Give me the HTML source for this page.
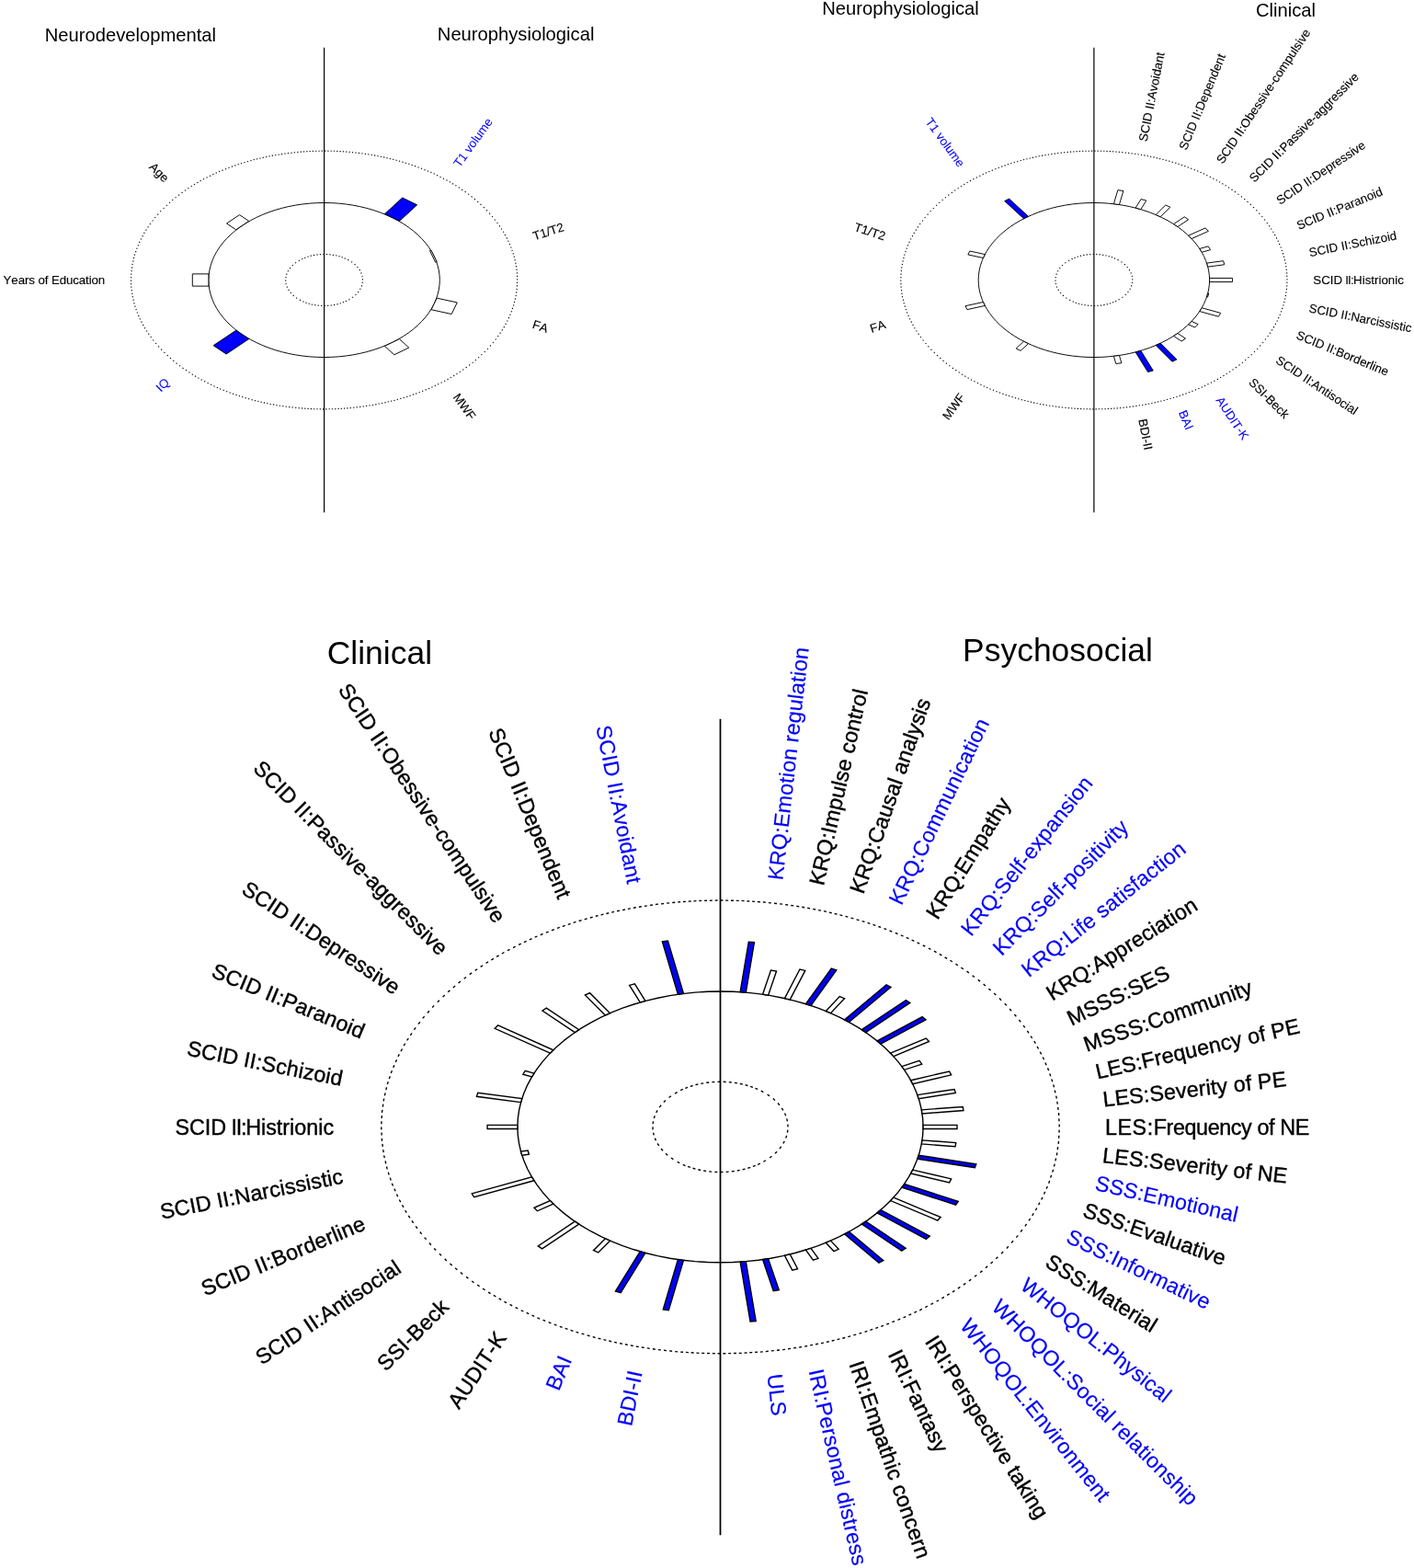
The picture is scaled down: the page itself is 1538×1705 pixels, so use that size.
<!DOCTYPE html>
<html lang="en"><head><meta charset="utf-8"><title>Helio plots</title>
<style>
html,body{margin:0;padding:0;background:#fff;}
body{width:1538px;height:1705px;overflow:hidden;font-family:"Liberation Sans", sans-serif;}
svg{display:block;}
text{white-space:pre;font-kerning:none;}
</style></head>
<body>
<svg width="1538" height="1705" viewBox="0 0 1538 1705" font-family='"Liberation Sans", sans-serif'>
<rect width="1538" height="1705" fill="#fff"/>
<g id="A">
<path d="M394.5 304.5l-0.06 -1.27M394.17 300.99l-0.29 -1.23M393.18 297.54l-0.51 -1.16M391.56 294.19l-0.69 -1.06M389.32 291.01l-0.84 -0.95M386.5 288.04l-0.96 -0.83M383.14 285.33l-1.05 -0.7M379.31 282.93l-1.13 -0.58M375.78 281.19l-1.15 -0.52M372.79 279.96l-1.2 -0.41M369.63 278.93l-1.22 -0.35M366.37 278.07l-1.23 -0.3M363.02 277.38l-1.25 -0.19M359.58 276.9l-1.26 -0.13M356.1 276.61l-1.26 -0.08M352.6 276.5l-1.27 0.03M349.1 276.61l-1.26 0.08M345.62 276.9l-1.26 0.13M342.18 277.38l-1.24 0.24M338.83 278.07l-1.23 0.3M335.57 278.93l-1.22 0.35M332.41 279.96l-1.18 0.47M329.42 281.19l-1.15 0.52M325.89 282.93l-1.09 0.64M322.06 285.33l-1.01 0.77M318.7 288.04l-0.9 0.89M315.88 291.01l-0.77 1.01M313.64 294.19l-0.6 1.12M312.02 297.54l-0.4 1.2M311.03 300.99l-0.18 1.26M310.7 304.5l0.06 1.27M311.03 308.01l0.29 1.23M312.02 311.46l0.51 1.16M313.64 314.81l0.69 1.06M315.88 317.99l0.84 0.95M318.7 320.96l0.96 0.83M322.06 323.67l1.05 0.7M325.89 326.07l1.13 0.58M329.42 327.81l1.15 0.52M332.41 329.04l1.2 0.41M335.57 330.07l1.22 0.35M338.83 330.93l1.23 0.3M342.18 331.62l1.25 0.19M345.62 332.1l1.26 0.13M349.1 332.39l1.26 0.08M352.6 332.5l1.27 -0.03M356.1 332.39l1.26 -0.08M359.58 332.1l1.26 -0.13M363.02 331.62l1.24 -0.24M366.37 330.93l1.23 -0.3M369.63 330.07l1.22 -0.35M372.79 329.04l1.18 -0.47M375.78 327.81l1.15 -0.52M379.31 326.07l1.09 -0.64M383.14 323.67l1.01 -0.77M386.5 320.96l0.9 -0.89M389.32 317.99l0.77 -1.01M391.56 314.81l0.6 -1.12M393.18 311.46l0.4 -1.2M394.17 308.01l0.18 -1.26" fill="none" stroke="#000" stroke-width="1.1" />
<polygon points="478.3,304.5 478.05,299.23 477.31,293.97 476.07,288.76 474.35,283.61 472.15,278.54 469.47,273.58 466.34,268.73 462.75,264.03 458.73,259.49 454.29,255.13 449.45,250.96 444.23,247 438.65,243.27 432.72,239.78 426.48,236.54 419.95,233.58 413.16,230.89 406.12,228.49 398.87,226.4 391.44,224.61 383.86,223.14 376.15,221.99 368.35,221.16 360.49,220.67 352.6,220.5 344.71,220.67 336.85,221.16 329.05,221.99 321.34,223.14 313.76,224.61 306.33,226.4 299.08,228.49 292.04,230.89 285.25,233.58 278.72,236.54 272.48,239.78 266.55,243.27 260.97,247 255.75,250.96 250.91,255.13 246.47,259.49 242.45,264.03 238.86,268.73 235.73,273.58 233.05,278.54 230.85,283.61 229.13,288.76 227.89,293.97 227.15,299.23 226.9,304.5 227.15,309.77 227.89,315.03 229.13,320.24 230.85,325.39 233.05,330.46 235.73,335.42 238.86,340.27 242.45,344.97 246.47,349.51 250.91,353.87 255.75,358.04 260.97,362 266.55,365.73 272.48,369.22 278.72,372.46 285.25,375.42 292.04,378.11 299.08,380.51 306.33,382.6 313.76,384.39 321.34,385.86 329.05,387.01 336.85,387.84 344.71,388.33 352.6,388.5 360.49,388.33 368.35,387.84 376.15,387.01 383.86,385.86 391.44,384.39 398.87,382.6 406.12,380.51 413.16,378.11 419.95,375.42 426.48,372.46 432.72,369.22 438.65,365.73 444.23,362 449.45,358.04 454.29,353.87 458.73,349.51 462.75,344.97 466.34,340.27 469.47,335.42 472.15,330.46 474.35,325.39 476.07,320.24 477.31,315.03 478.05,309.77" fill="none" stroke="#000" stroke-width="0.95" stroke-linejoin="round"/>
<path d="M562.73 304.5l-0.06 -1.27M562.56 300.97l-0.06 -1.27M562.4 297.45l-0.06 -1.27M562.07 293.93l-0.18 -1.26M561.57 290.41l-0.18 -1.26M561.07 286.9l-0.29 -1.23M560.25 283.42l-0.29 -1.23M559.42 279.93l-0.29 -1.23M558.43 276.47l-0.4 -1.2M557.28 273.02l-0.4 -1.2M556.13 269.58l-0.51 -1.16M554.65 266.19l-0.51 -1.16M553.18 262.8l-0.51 -1.16M551.55 259.45l-0.6 -1.12M549.76 256.13l-0.6 -1.12M547.97 252.81l-0.69 -1.06M545.88 249.57l-0.69 -1.06M543.78 246.33l-0.69 -1.06M541.4 242.97l-0.77 -1.01M538.73 239.47l-0.77 -1.01M535.99 236.01l-0.84 -0.95M533 232.63l-0.84 -0.95M530.02 229.26l-0.9 -0.89M526.72 226.02l-0.9 -0.89M523.42 222.77l-0.9 -0.89M520.17 219.87l-0.96 -0.83M516.93 217.08l-0.96 -0.83M513.63 214.33l-1.01 -0.77M510.14 211.68l-1.01 -0.77M506.65 209.04l-1.01 -0.77M503.23 206.67l-1.05 -0.7M499.84 204.41l-1.05 -0.7M496.44 202.14l-1.09 -0.64M493.14 200.19l-1.09 -0.64M489.84 198.25l-1.09 -0.64M486.54 196.3l-1.13 -0.58M483.06 194.5l-1.13 -0.58M479.59 192.7l-1.13 -0.58M476.11 190.9l-1.15 -0.52M472.75 189.37l-1.15 -0.52M469.39 187.85l-1.15 -0.52M466.03 186.32l-1.15 -0.52M462.57 184.9l-1.18 -0.47M459.07 183.52l-1.18 -0.47M455.58 182.14l-1.18 -0.47M452.15 180.88l-1.2 -0.41M448.79 179.73l-1.2 -0.41M445.43 178.59l-1.2 -0.41M442.07 177.44l-1.22 -0.35M438.61 176.44l-1.22 -0.35M435.15 175.44l-1.22 -0.35M431.68 174.44l-1.22 -0.35M428.3 173.54l-1.23 -0.3M424.99 172.75l-1.23 -0.3M421.67 171.95l-1.23 -0.3M418.36 171.15l-1.23 -0.3M415 170.46l-1.24 -0.24M411.62 169.8l-1.24 -0.24M408.24 169.15l-1.24 -0.24M404.86 168.49l-1.25 -0.19M401.42 167.98l-1.25 -0.19M397.99 167.47l-1.25 -0.19M394.55 166.95l-1.25 -0.19M391.1 166.48l-1.26 -0.13M387.63 166.11l-1.26 -0.13M384.15 165.74l-1.26 -0.13M380.67 165.37l-1.26 -0.13M377.29 165.08l-1.26 -0.08M374.01 164.88l-1.26 -0.08M370.72 164.67l-1.26 -0.08M367.44 164.46l-1.26 -0.08M364.14 164.32l-1.27 -0.03M360.85 164.25l-1.27 -0.03M357.55 164.18l-1.27 -0.03M354.25 164.11l-1.27 -0.03M350.95 164.11l-1.27 0.03M347.65 164.18l-1.27 0.03M344.35 164.25l-1.27 0.03M341.06 164.32l-1.27 0.03M337.76 164.46l-1.26 0.08M334.48 164.67l-1.26 0.08M331.19 164.88l-1.26 0.08M327.91 165.08l-1.26 0.08M324.53 165.37l-1.26 0.13M321.05 165.74l-1.26 0.13M317.57 166.11l-1.26 0.13M314.1 166.48l-1.26 0.13M310.65 166.95l-1.25 0.19M307.21 167.47l-1.25 0.19M303.78 167.98l-1.25 0.19M300.34 168.49l-1.24 0.24M296.96 169.15l-1.24 0.24M293.58 169.8l-1.24 0.24M290.2 170.46l-1.24 0.24M286.84 171.15l-1.23 0.3M283.53 171.95l-1.23 0.3M280.21 172.75l-1.23 0.3M276.9 173.54l-1.23 0.3M273.52 174.44l-1.22 0.35M270.05 175.44l-1.22 0.35M266.59 176.44l-1.22 0.35M263.13 177.44l-1.2 0.41M259.77 178.59l-1.2 0.41M256.41 179.73l-1.2 0.41M253.05 180.88l-1.2 0.41M249.62 182.14l-1.18 0.47M246.13 183.52l-1.18 0.47M242.63 184.9l-1.18 0.47M239.17 186.32l-1.15 0.52M235.81 187.85l-1.15 0.52M232.45 189.37l-1.15 0.52M229.09 190.9l-1.13 0.58M225.61 192.7l-1.13 0.58M222.14 194.5l-1.13 0.58M218.66 196.3l-1.09 0.64M215.36 198.25l-1.09 0.64M212.06 200.19l-1.09 0.64M208.76 202.14l-1.05 0.7M205.36 204.41l-1.05 0.7M201.97 206.67l-1.05 0.7M198.55 209.04l-1.01 0.77M195.06 211.68l-1.01 0.77M191.57 214.33l-1.01 0.77M188.27 217.08l-0.96 0.83M185.03 219.87l-0.96 0.83M181.78 222.77l-0.9 0.89M178.48 226.02l-0.9 0.89M175.18 229.26l-0.84 0.95M172.2 232.63l-0.84 0.95M169.21 236.01l-0.84 0.95M166.47 239.47l-0.77 1.01M163.8 242.97l-0.77 1.01M161.42 246.33l-0.69 1.06M159.32 249.57l-0.69 1.06M157.23 252.81l-0.6 1.12M155.44 256.13l-0.6 1.12M153.65 259.45l-0.6 1.12M152.02 262.8l-0.51 1.16M150.55 266.19l-0.51 1.16M149.07 269.58l-0.4 1.2M147.92 273.02l-0.4 1.2M146.77 276.47l-0.4 1.2M145.78 279.93l-0.29 1.23M144.95 283.42l-0.29 1.23M144.13 286.9l-0.18 1.26M143.63 290.41l-0.18 1.26M143.13 293.93l-0.18 1.26M142.8 297.45l-0.06 1.27M142.64 300.97l-0.06 1.27M142.47 304.5l0.06 1.27M142.64 308.03l0.06 1.27M142.8 311.55l0.06 1.27M143.13 315.07l0.18 1.26M143.63 318.59l0.18 1.26M144.13 322.1l0.29 1.23M144.95 325.58l0.29 1.23M145.78 329.07l0.29 1.23M146.77 332.53l0.4 1.2M147.92 335.98l0.4 1.2M149.07 339.42l0.51 1.16M150.55 342.81l0.51 1.16M152.02 346.2l0.51 1.16M153.65 349.55l0.6 1.12M155.44 352.87l0.6 1.12M157.23 356.19l0.69 1.06M159.32 359.43l0.69 1.06M161.42 362.67l0.69 1.06M163.8 366.03l0.77 1.01M166.47 369.53l0.77 1.01M169.21 372.99l0.84 0.95M172.2 376.37l0.84 0.95M175.18 379.74l0.9 0.89M178.48 382.98l0.9 0.89M181.78 386.23l0.9 0.89M185.03 389.13l0.96 0.83M188.27 391.92l0.96 0.83M191.57 394.67l1.01 0.77M195.06 397.32l1.01 0.77M198.55 399.96l1.01 0.77M201.97 402.33l1.05 0.7M205.36 404.59l1.05 0.7M208.76 406.86l1.09 0.64M212.06 408.81l1.09 0.64M215.36 410.75l1.09 0.64M218.66 412.7l1.13 0.58M222.14 414.5l1.13 0.58M225.61 416.3l1.13 0.58M229.09 418.1l1.15 0.52M232.45 419.63l1.15 0.52M235.81 421.15l1.15 0.52M239.17 422.68l1.15 0.52M242.63 424.1l1.18 0.47M246.13 425.48l1.18 0.47M249.62 426.86l1.18 0.47M253.05 428.12l1.2 0.41M256.41 429.27l1.2 0.41M259.77 430.41l1.2 0.41M263.13 431.56l1.22 0.35M266.59 432.56l1.22 0.35M270.05 433.56l1.22 0.35M273.52 434.56l1.22 0.35M276.9 435.46l1.23 0.3M280.21 436.25l1.23 0.3M283.53 437.05l1.23 0.3M286.84 437.85l1.23 0.3M290.2 438.54l1.24 0.24M293.58 439.2l1.24 0.24M296.96 439.85l1.24 0.24M300.34 440.51l1.25 0.19M303.78 441.02l1.25 0.19M307.21 441.53l1.25 0.19M310.65 442.05l1.25 0.19M314.1 442.52l1.26 0.13M317.57 442.89l1.26 0.13M321.05 443.26l1.26 0.13M324.53 443.63l1.26 0.13M327.91 443.92l1.26 0.08M331.19 444.12l1.26 0.08M334.48 444.33l1.26 0.08M337.76 444.54l1.26 0.08M341.06 444.68l1.27 0.03M344.35 444.75l1.27 0.03M347.65 444.82l1.27 0.03M350.95 444.89l1.27 0.03M354.25 444.89l1.27 -0.03M357.55 444.82l1.27 -0.03M360.85 444.75l1.27 -0.03M364.14 444.68l1.27 -0.03M367.44 444.54l1.26 -0.08M370.72 444.33l1.26 -0.08M374.01 444.12l1.26 -0.08M377.29 443.92l1.26 -0.08M380.67 443.63l1.26 -0.13M384.15 443.26l1.26 -0.13M387.63 442.89l1.26 -0.13M391.1 442.52l1.26 -0.13M394.55 442.05l1.25 -0.19M397.99 441.53l1.25 -0.19M401.42 441.02l1.25 -0.19M404.86 440.51l1.24 -0.24M408.24 439.85l1.24 -0.24M411.62 439.2l1.24 -0.24M415 438.54l1.24 -0.24M418.36 437.85l1.23 -0.3M421.67 437.05l1.23 -0.3M424.99 436.25l1.23 -0.3M428.3 435.46l1.23 -0.3M431.68 434.56l1.22 -0.35M435.15 433.56l1.22 -0.35M438.61 432.56l1.22 -0.35M442.07 431.56l1.2 -0.41M445.43 430.41l1.2 -0.41M448.79 429.27l1.2 -0.41M452.15 428.12l1.2 -0.41M455.58 426.86l1.18 -0.47M459.07 425.48l1.18 -0.47M462.57 424.1l1.18 -0.47M466.03 422.68l1.15 -0.52M469.39 421.15l1.15 -0.52M472.75 419.63l1.15 -0.52M476.11 418.1l1.13 -0.58M479.59 416.3l1.13 -0.58M483.06 414.5l1.13 -0.58M486.54 412.7l1.09 -0.64M489.84 410.75l1.09 -0.64M493.14 408.81l1.09 -0.64M496.44 406.86l1.05 -0.7M499.84 404.59l1.05 -0.7M503.23 402.33l1.05 -0.7M506.65 399.96l1.01 -0.77M510.14 397.32l1.01 -0.77M513.63 394.67l1.01 -0.77M516.93 391.92l0.96 -0.83M520.17 389.13l0.96 -0.83M523.42 386.23l0.9 -0.89M526.72 382.98l0.9 -0.89M530.02 379.74l0.84 -0.95M533 376.37l0.84 -0.95M535.99 372.99l0.84 -0.95M538.73 369.53l0.77 -1.01M541.4 366.03l0.77 -1.01M543.78 362.67l0.69 -1.06M545.88 359.43l0.69 -1.06M547.97 356.19l0.6 -1.12M549.76 352.87l0.6 -1.12M551.55 349.55l0.6 -1.12M553.18 346.2l0.51 -1.16M554.65 342.81l0.51 -1.16M556.13 339.42l0.4 -1.2M557.28 335.98l0.4 -1.2M558.43 332.53l0.4 -1.2M559.42 329.07l0.29 -1.23M560.25 325.58l0.29 -1.23M561.07 322.1l0.18 -1.26M561.57 318.59l0.18 -1.26M562.07 315.07l0.18 -1.26M562.4 311.55l0.06 -1.27M562.56 308.03l0.06 -1.27" fill="none" stroke="#000" stroke-width="1.1" />
<line x1="352.6" y1="51.66" x2="352.6" y2="557.34" stroke="#000" stroke-width="1.2"/>
<polygon points="256.72,249.78 246.53,242.96 260.52,233.62 270.71,240.43" fill="#fff" stroke="#000" stroke-width="0.95" stroke-linejoin="miter"/>
<polygon points="226.9,311.11 209.3,311.11 209.3,297.89 226.9,297.89" fill="#fff" stroke="#000" stroke-width="0.95" stroke-linejoin="miter"/>
<polygon points="270.71,368.57 246.12,385 232.13,375.66 256.72,359.22" fill="#0000ff" stroke="#000" stroke-width="0.95" stroke-linejoin="miter"/>
<polygon points="418.48,232.66 437.65,215.03 453.65,222.8 434.48,240.43" fill="#0000ff" stroke="#000" stroke-width="0.95" stroke-linejoin="miter"/>
<polygon points="469.09,272.26 467.5,272.6 473.61,285.17 475.2,284.83" fill="#fff" stroke="#000" stroke-width="0.95" stroke-linejoin="miter"/>
<polygon points="475.2,324.17 497.28,328.97 491.17,341.54 469.09,336.74" fill="#fff" stroke="#000" stroke-width="0.95" stroke-linejoin="miter"/>
<polygon points="434.48,368.57 444.78,378.04 428.78,385.81 418.48,376.34" fill="#fff" stroke="#000" stroke-width="0.95" stroke-linejoin="miter"/>
<text transform="translate(181.65 195.61) rotate(45)" x="0" y="4.76" font-size="13.3" text-anchor="end" fill="#000" stroke="#000" stroke-width="0.12">Age</text>
<text transform="translate(114.15 304.5) rotate(-0)" x="0" y="4.76" font-size="13.3" text-anchor="end" fill="#000" stroke="#000" stroke-width="0.12" letter-spacing="-0.1">Years of Education</text>
<text transform="translate(181.65 413.39) rotate(-45)" x="0" y="4.76" font-size="13.3" text-anchor="end" fill="#0000ff" stroke="#0000ff" stroke-width="0.05">IQ</text>
<text transform="translate(496.06 179.91) rotate(-54)" x="0" y="4.76" font-size="13.3" text-anchor="start" fill="#0000ff" stroke="#0000ff" stroke-width="0.05">T1 volume</text>
<text transform="translate(579.77 256.91) rotate(-18)" x="0" y="4.76" font-size="13.3" text-anchor="start" fill="#000" stroke="#000" stroke-width="0.12">T1/T2</text>
<text transform="translate(579.77 352.09) rotate(18)" x="0" y="4.76" font-size="13.3" text-anchor="start" fill="#000" stroke="#000" stroke-width="0.12">FA</text>
<text transform="translate(496.06 429.09) rotate(54)" x="0" y="4.76" font-size="13.3" text-anchor="start" fill="#000" stroke="#000" stroke-width="0.12">MWF</text>
<text x="141.85" y="44.6" font-size="20.2" text-anchor="middle" fill="#000">Neurodevelopmental</text>
<text x="561.1" y="43.6" font-size="20.2" text-anchor="middle" fill="#000">Neurophysiological</text>
</g>
<g id="B">
<path d="M1231.8 304.5l-0.06 -1.27M1231.47 300.99l-0.29 -1.23M1230.48 297.54l-0.51 -1.16M1228.86 294.19l-0.69 -1.06M1226.62 291.01l-0.84 -0.95M1223.8 288.04l-0.96 -0.83M1220.44 285.33l-1.05 -0.7M1216.61 282.93l-1.13 -0.58M1213.08 281.19l-1.15 -0.52M1210.09 279.96l-1.2 -0.41M1206.93 278.93l-1.22 -0.35M1203.67 278.07l-1.23 -0.3M1200.32 277.38l-1.25 -0.19M1196.88 276.9l-1.26 -0.13M1193.4 276.61l-1.26 -0.08M1189.9 276.5l-1.27 0.03M1186.4 276.61l-1.26 0.08M1182.92 276.9l-1.26 0.13M1179.48 277.38l-1.24 0.24M1176.13 278.07l-1.23 0.3M1172.87 278.93l-1.22 0.35M1169.71 279.96l-1.18 0.47M1166.72 281.19l-1.15 0.52M1163.19 282.93l-1.09 0.64M1159.36 285.33l-1.01 0.77M1156 288.04l-0.9 0.89M1153.18 291.01l-0.77 1.01M1150.94 294.19l-0.6 1.12M1149.32 297.54l-0.4 1.2M1148.33 300.99l-0.18 1.26M1148 304.5l0.06 1.27M1148.33 308.01l0.29 1.23M1149.32 311.46l0.51 1.16M1150.94 314.81l0.69 1.06M1153.18 317.99l0.84 0.95M1156 320.96l0.96 0.83M1159.36 323.67l1.05 0.7M1163.19 326.07l1.13 0.58M1166.72 327.81l1.15 0.52M1169.71 329.04l1.2 0.41M1172.87 330.07l1.22 0.35M1176.13 330.93l1.23 0.3M1179.48 331.62l1.25 0.19M1182.92 332.1l1.26 0.13M1186.4 332.39l1.26 0.08M1189.9 332.5l1.27 -0.03M1193.4 332.39l1.26 -0.08M1196.88 332.1l1.26 -0.13M1200.32 331.62l1.24 -0.24M1203.67 330.93l1.23 -0.3M1206.93 330.07l1.22 -0.35M1210.09 329.04l1.18 -0.47M1213.08 327.81l1.15 -0.52M1216.61 326.07l1.09 -0.64M1220.44 323.67l1.01 -0.77M1223.8 320.96l0.9 -0.89M1226.62 317.99l0.77 -1.01M1228.86 314.81l0.6 -1.12M1230.48 311.46l0.4 -1.2M1231.47 308.01l0.18 -1.26" fill="none" stroke="#000" stroke-width="1.1" />
<polygon points="1315.6,304.5 1315.35,299.23 1314.61,293.97 1313.37,288.76 1311.65,283.61 1309.45,278.54 1306.77,273.58 1303.64,268.73 1300.05,264.03 1296.03,259.49 1291.59,255.13 1286.75,250.96 1281.53,247 1275.95,243.27 1270.02,239.78 1263.78,236.54 1257.25,233.58 1250.46,230.89 1243.42,228.49 1236.17,226.4 1228.74,224.61 1221.16,223.14 1213.45,221.99 1205.65,221.16 1197.79,220.67 1189.9,220.5 1182.01,220.67 1174.15,221.16 1166.35,221.99 1158.64,223.14 1151.06,224.61 1143.63,226.4 1136.38,228.49 1129.34,230.89 1122.55,233.58 1116.02,236.54 1109.78,239.78 1103.85,243.27 1098.27,247 1093.05,250.96 1088.21,255.13 1083.77,259.49 1079.75,264.03 1076.16,268.73 1073.03,273.58 1070.35,278.54 1068.15,283.61 1066.43,288.76 1065.19,293.97 1064.45,299.23 1064.2,304.5 1064.45,309.77 1065.19,315.03 1066.43,320.24 1068.15,325.39 1070.35,330.46 1073.03,335.42 1076.16,340.27 1079.75,344.97 1083.77,349.51 1088.21,353.87 1093.05,358.04 1098.27,362 1103.85,365.73 1109.78,369.22 1116.02,372.46 1122.55,375.42 1129.34,378.11 1136.38,380.51 1143.63,382.6 1151.06,384.39 1158.64,385.86 1166.35,387.01 1174.15,387.84 1182.01,388.33 1189.9,388.5 1197.79,388.33 1205.65,387.84 1213.45,387.01 1221.16,385.86 1228.74,384.39 1236.17,382.6 1243.42,380.51 1250.46,378.11 1257.25,375.42 1263.78,372.46 1270.02,369.22 1275.95,365.73 1281.53,362 1286.75,358.04 1291.59,353.87 1296.03,349.51 1300.05,344.97 1303.64,340.27 1306.77,335.42 1309.45,330.46 1311.65,325.39 1313.37,320.24 1314.61,315.03 1315.35,309.77" fill="none" stroke="#000" stroke-width="0.95" stroke-linejoin="round"/>
<path d="M1400.03 304.5l-0.06 -1.27M1399.86 300.97l-0.06 -1.27M1399.7 297.45l-0.06 -1.27M1399.37 293.93l-0.18 -1.26M1398.87 290.41l-0.18 -1.26M1398.37 286.9l-0.29 -1.23M1397.55 283.42l-0.29 -1.23M1396.72 279.93l-0.29 -1.23M1395.73 276.47l-0.4 -1.2M1394.58 273.02l-0.4 -1.2M1393.43 269.58l-0.51 -1.16M1391.95 266.19l-0.51 -1.16M1390.48 262.8l-0.51 -1.16M1388.85 259.45l-0.6 -1.12M1387.06 256.13l-0.6 -1.12M1385.27 252.81l-0.69 -1.06M1383.18 249.57l-0.69 -1.06M1381.08 246.33l-0.69 -1.06M1378.7 242.97l-0.77 -1.01M1376.03 239.47l-0.77 -1.01M1373.29 236.01l-0.84 -0.95M1370.3 232.63l-0.84 -0.95M1367.32 229.26l-0.9 -0.89M1364.02 226.02l-0.9 -0.89M1360.72 222.77l-0.9 -0.89M1357.47 219.87l-0.96 -0.83M1354.23 217.08l-0.96 -0.83M1350.93 214.33l-1.01 -0.77M1347.44 211.68l-1.01 -0.77M1343.95 209.04l-1.01 -0.77M1340.53 206.67l-1.05 -0.7M1337.14 204.41l-1.05 -0.7M1333.74 202.14l-1.09 -0.64M1330.44 200.19l-1.09 -0.64M1327.14 198.25l-1.09 -0.64M1323.84 196.3l-1.13 -0.58M1320.36 194.5l-1.13 -0.58M1316.89 192.7l-1.13 -0.58M1313.41 190.9l-1.15 -0.52M1310.05 189.37l-1.15 -0.52M1306.69 187.85l-1.15 -0.52M1303.33 186.32l-1.15 -0.52M1299.87 184.9l-1.18 -0.47M1296.37 183.52l-1.18 -0.47M1292.88 182.14l-1.18 -0.47M1289.45 180.88l-1.2 -0.41M1286.09 179.73l-1.2 -0.41M1282.73 178.59l-1.2 -0.41M1279.37 177.44l-1.22 -0.35M1275.91 176.44l-1.22 -0.35M1272.45 175.44l-1.22 -0.35M1268.98 174.44l-1.22 -0.35M1265.6 173.54l-1.23 -0.3M1262.29 172.75l-1.23 -0.3M1258.97 171.95l-1.23 -0.3M1255.66 171.15l-1.23 -0.3M1252.3 170.46l-1.24 -0.24M1248.92 169.8l-1.24 -0.24M1245.54 169.15l-1.24 -0.24M1242.16 168.49l-1.25 -0.19M1238.72 167.98l-1.25 -0.19M1235.29 167.47l-1.25 -0.19M1231.85 166.95l-1.25 -0.19M1228.4 166.48l-1.26 -0.13M1224.93 166.11l-1.26 -0.13M1221.45 165.74l-1.26 -0.13M1217.97 165.37l-1.26 -0.13M1214.59 165.08l-1.26 -0.08M1211.31 164.88l-1.26 -0.08M1208.02 164.67l-1.26 -0.08M1204.74 164.46l-1.26 -0.08M1201.44 164.32l-1.27 -0.03M1198.15 164.25l-1.27 -0.03M1194.85 164.18l-1.27 -0.03M1191.55 164.11l-1.27 -0.03M1188.25 164.11l-1.27 0.03M1184.95 164.18l-1.27 0.03M1181.65 164.25l-1.27 0.03M1178.36 164.32l-1.27 0.03M1175.06 164.46l-1.26 0.08M1171.78 164.67l-1.26 0.08M1168.49 164.88l-1.26 0.08M1165.21 165.08l-1.26 0.08M1161.83 165.37l-1.26 0.13M1158.35 165.74l-1.26 0.13M1154.87 166.11l-1.26 0.13M1151.4 166.48l-1.26 0.13M1147.95 166.95l-1.25 0.19M1144.51 167.47l-1.25 0.19M1141.08 167.98l-1.25 0.19M1137.64 168.49l-1.24 0.24M1134.26 169.15l-1.24 0.24M1130.88 169.8l-1.24 0.24M1127.5 170.46l-1.24 0.24M1124.14 171.15l-1.23 0.3M1120.83 171.95l-1.23 0.3M1117.51 172.75l-1.23 0.3M1114.2 173.54l-1.23 0.3M1110.82 174.44l-1.22 0.35M1107.35 175.44l-1.22 0.35M1103.89 176.44l-1.22 0.35M1100.43 177.44l-1.2 0.41M1097.07 178.59l-1.2 0.41M1093.71 179.73l-1.2 0.41M1090.35 180.88l-1.2 0.41M1086.92 182.14l-1.18 0.47M1083.43 183.52l-1.18 0.47M1079.93 184.9l-1.18 0.47M1076.47 186.32l-1.15 0.52M1073.11 187.85l-1.15 0.52M1069.75 189.37l-1.15 0.52M1066.39 190.9l-1.13 0.58M1062.91 192.7l-1.13 0.58M1059.44 194.5l-1.13 0.58M1055.96 196.3l-1.09 0.64M1052.66 198.25l-1.09 0.64M1049.36 200.19l-1.09 0.64M1046.06 202.14l-1.05 0.7M1042.66 204.41l-1.05 0.7M1039.27 206.67l-1.05 0.7M1035.85 209.04l-1.01 0.77M1032.36 211.68l-1.01 0.77M1028.87 214.33l-1.01 0.77M1025.57 217.08l-0.96 0.83M1022.33 219.87l-0.96 0.83M1019.08 222.77l-0.9 0.89M1015.78 226.02l-0.9 0.89M1012.48 229.26l-0.84 0.95M1009.5 232.63l-0.84 0.95M1006.51 236.01l-0.84 0.95M1003.77 239.47l-0.77 1.01M1001.1 242.97l-0.77 1.01M998.72 246.33l-0.69 1.06M996.62 249.57l-0.69 1.06M994.53 252.81l-0.6 1.12M992.74 256.13l-0.6 1.12M990.95 259.45l-0.6 1.12M989.32 262.8l-0.51 1.16M987.85 266.19l-0.51 1.16M986.37 269.58l-0.4 1.2M985.22 273.02l-0.4 1.2M984.07 276.47l-0.4 1.2M983.08 279.93l-0.29 1.23M982.25 283.42l-0.29 1.23M981.43 286.9l-0.18 1.26M980.93 290.41l-0.18 1.26M980.43 293.93l-0.18 1.26M980.1 297.45l-0.06 1.27M979.94 300.97l-0.06 1.27M979.77 304.5l0.06 1.27M979.94 308.03l0.06 1.27M980.1 311.55l0.06 1.27M980.43 315.07l0.18 1.26M980.93 318.59l0.18 1.26M981.43 322.1l0.29 1.23M982.25 325.58l0.29 1.23M983.08 329.07l0.29 1.23M984.07 332.53l0.4 1.2M985.22 335.98l0.4 1.2M986.37 339.42l0.51 1.16M987.85 342.81l0.51 1.16M989.32 346.2l0.51 1.16M990.95 349.55l0.6 1.12M992.74 352.87l0.6 1.12M994.53 356.19l0.69 1.06M996.62 359.43l0.69 1.06M998.72 362.67l0.69 1.06M1001.1 366.03l0.77 1.01M1003.77 369.53l0.77 1.01M1006.51 372.99l0.84 0.95M1009.5 376.37l0.84 0.95M1012.48 379.74l0.9 0.89M1015.78 382.98l0.9 0.89M1019.08 386.23l0.9 0.89M1022.33 389.13l0.96 0.83M1025.57 391.92l0.96 0.83M1028.87 394.67l1.01 0.77M1032.36 397.32l1.01 0.77M1035.85 399.96l1.01 0.77M1039.27 402.33l1.05 0.7M1042.66 404.59l1.05 0.7M1046.06 406.86l1.09 0.64M1049.36 408.81l1.09 0.64M1052.66 410.75l1.09 0.64M1055.96 412.7l1.13 0.58M1059.44 414.5l1.13 0.58M1062.91 416.3l1.13 0.58M1066.39 418.1l1.15 0.52M1069.75 419.63l1.15 0.52M1073.11 421.15l1.15 0.52M1076.47 422.68l1.15 0.52M1079.93 424.1l1.18 0.47M1083.43 425.48l1.18 0.47M1086.92 426.86l1.18 0.47M1090.35 428.12l1.2 0.41M1093.71 429.27l1.2 0.41M1097.07 430.41l1.2 0.41M1100.43 431.56l1.22 0.35M1103.89 432.56l1.22 0.35M1107.35 433.56l1.22 0.35M1110.82 434.56l1.22 0.35M1114.2 435.46l1.23 0.3M1117.51 436.25l1.23 0.3M1120.83 437.05l1.23 0.3M1124.14 437.85l1.23 0.3M1127.5 438.54l1.24 0.24M1130.88 439.2l1.24 0.24M1134.26 439.85l1.24 0.24M1137.64 440.51l1.25 0.19M1141.08 441.02l1.25 0.19M1144.51 441.53l1.25 0.19M1147.95 442.05l1.25 0.19M1151.4 442.52l1.26 0.13M1154.87 442.89l1.26 0.13M1158.35 443.26l1.26 0.13M1161.83 443.63l1.26 0.13M1165.21 443.92l1.26 0.08M1168.49 444.12l1.26 0.08M1171.78 444.33l1.26 0.08M1175.06 444.54l1.26 0.08M1178.36 444.68l1.27 0.03M1181.65 444.75l1.27 0.03M1184.95 444.82l1.27 0.03M1188.25 444.89l1.27 0.03M1191.55 444.89l1.27 -0.03M1194.85 444.82l1.27 -0.03M1198.15 444.75l1.27 -0.03M1201.44 444.68l1.27 -0.03M1204.74 444.54l1.26 -0.08M1208.02 444.33l1.26 -0.08M1211.31 444.12l1.26 -0.08M1214.59 443.92l1.26 -0.08M1217.97 443.63l1.26 -0.13M1221.45 443.26l1.26 -0.13M1224.93 442.89l1.26 -0.13M1228.4 442.52l1.26 -0.13M1231.85 442.05l1.25 -0.19M1235.29 441.53l1.25 -0.19M1238.72 441.02l1.25 -0.19M1242.16 440.51l1.24 -0.24M1245.54 439.85l1.24 -0.24M1248.92 439.2l1.24 -0.24M1252.3 438.54l1.24 -0.24M1255.66 437.85l1.23 -0.3M1258.97 437.05l1.23 -0.3M1262.29 436.25l1.23 -0.3M1265.6 435.46l1.23 -0.3M1268.98 434.56l1.22 -0.35M1272.45 433.56l1.22 -0.35M1275.91 432.56l1.22 -0.35M1279.37 431.56l1.2 -0.41M1282.73 430.41l1.2 -0.41M1286.09 429.27l1.2 -0.41M1289.45 428.12l1.2 -0.41M1292.88 426.86l1.18 -0.47M1296.37 425.48l1.18 -0.47M1299.87 424.1l1.18 -0.47M1303.33 422.68l1.15 -0.52M1306.69 421.15l1.15 -0.52M1310.05 419.63l1.15 -0.52M1313.41 418.1l1.13 -0.58M1316.89 416.3l1.13 -0.58M1320.36 414.5l1.13 -0.58M1323.84 412.7l1.09 -0.64M1327.14 410.75l1.09 -0.64M1330.44 408.81l1.09 -0.64M1333.74 406.86l1.05 -0.7M1337.14 404.59l1.05 -0.7M1340.53 402.33l1.05 -0.7M1343.95 399.96l1.01 -0.77M1347.44 397.32l1.01 -0.77M1350.93 394.67l1.01 -0.77M1354.23 391.92l0.96 -0.83M1357.47 389.13l0.96 -0.83M1360.72 386.23l0.9 -0.89M1364.02 382.98l0.9 -0.89M1367.32 379.74l0.84 -0.95M1370.3 376.37l0.84 -0.95M1373.29 372.99l0.84 -0.95M1376.03 369.53l0.77 -1.01M1378.7 366.03l0.77 -1.01M1381.08 362.67l0.69 -1.06M1383.18 359.43l0.69 -1.06M1385.27 356.19l0.6 -1.12M1387.06 352.87l0.6 -1.12M1388.85 349.55l0.6 -1.12M1390.48 346.2l0.51 -1.16M1391.95 342.81l0.51 -1.16M1393.43 339.42l0.4 -1.2M1394.58 335.98l0.4 -1.2M1395.73 332.53l0.4 -1.2M1396.72 329.07l0.29 -1.23M1397.55 325.58l0.29 -1.23M1398.37 322.1l0.18 -1.26M1398.87 318.59l0.18 -1.26M1399.37 315.07l0.18 -1.26M1399.7 311.55l0.06 -1.27M1399.86 308.03l0.06 -1.27" fill="none" stroke="#000" stroke-width="1.1" />
<line x1="1189.9" y1="51.66" x2="1189.9" y2="557.34" stroke="#000" stroke-width="1.2"/>
<polygon points="1113.52,237.76 1092.68,218.59 1097.68,216.16 1118.52,235.33" fill="#0000ff" stroke="#000" stroke-width="0.95" stroke-linejoin="miter"/>
<polygon points="1069.4,280.51 1052.9,276.92 1054.81,273 1071.31,276.58" fill="#fff" stroke="#000" stroke-width="0.95" stroke-linejoin="miter"/>
<polygon points="1071.31,332.42 1051.94,336.63 1050.03,332.7 1069.4,328.49" fill="#fff" stroke="#000" stroke-width="0.95" stroke-linejoin="miter"/>
<polygon points="1118.52,373.67 1110.19,381.33 1105.19,378.9 1113.52,371.24" fill="#fff" stroke="#000" stroke-width="0.95" stroke-linejoin="miter"/>
<polygon points="1211.39,221.71 1215.86,206.72 1221.92,207.52 1217.45,222.52" fill="#fff" stroke="#000" stroke-width="0.95" stroke-linejoin="miter"/>
<polygon points="1235.15,226.1 1241.08,216.53 1246.79,218.11 1240.86,227.68" fill="#fff" stroke="#000" stroke-width="0.95" stroke-linejoin="miter"/>
<polygon points="1257.17,233.51 1267.69,222.99 1272.83,225.28 1262.3,235.8" fill="#fff" stroke="#000" stroke-width="0.95" stroke-linejoin="miter"/>
<polygon points="1276.6,243.64 1288.27,235.84 1292.64,238.76 1280.97,246.56" fill="#fff" stroke="#000" stroke-width="0.95" stroke-linejoin="miter"/>
<polygon points="1292.7,256.12 1311.02,247.93 1314.46,251.37 1296.13,259.55" fill="#fff" stroke="#000" stroke-width="0.95" stroke-linejoin="miter"/>
<polygon points="1304.85,270.45 1314.22,267.85 1316.58,271.67 1307.21,274.26" fill="#fff" stroke="#000" stroke-width="0.95" stroke-linejoin="miter"/>
<polygon points="1312.58,286.09 1330.58,283.69 1331.79,287.75 1313.79,290.14" fill="#fff" stroke="#000" stroke-width="0.95" stroke-linejoin="miter"/>
<polygon points="1315.6,302.44 1340.57,302.44 1340.57,306.56 1315.6,306.56" fill="#fff" stroke="#000" stroke-width="0.95" stroke-linejoin="miter"/>
<polygon points="1313.79,318.86 1314.77,318.99 1313.57,323.04 1312.58,322.91" fill="#fff" stroke="#000" stroke-width="0.95" stroke-linejoin="miter"/>
<polygon points="1307.21,334.74 1327.73,340.42 1325.37,344.23 1304.85,338.55" fill="#fff" stroke="#000" stroke-width="0.95" stroke-linejoin="miter"/>
<polygon points="1296.13,349.45 1303.1,352.56 1299.67,356 1292.7,352.88" fill="#fff" stroke="#000" stroke-width="0.95" stroke-linejoin="miter"/>
<polygon points="1280.97,362.44 1289.5,368.14 1285.13,371.06 1276.6,365.36" fill="#fff" stroke="#000" stroke-width="0.95" stroke-linejoin="miter"/>
<polygon points="1262.3,373.2 1280,390.89 1274.86,393.18 1257.17,375.49" fill="#0000ff" stroke="#000" stroke-width="0.95" stroke-linejoin="miter"/>
<polygon points="1240.86,381.32 1254.26,402.94 1248.55,404.52 1235.15,382.9" fill="#0000ff" stroke="#000" stroke-width="0.95" stroke-linejoin="miter"/>
<polygon points="1217.45,386.48 1219.91,394.72 1213.84,395.53 1211.39,387.29" fill="#fff" stroke="#000" stroke-width="0.95" stroke-linejoin="miter"/>
<text transform="translate(1046.44 179.91) rotate(54)" x="0" y="4.76" font-size="13.3" text-anchor="end" fill="#0000ff" stroke="#0000ff" stroke-width="0.05">T1 volume</text>
<text transform="translate(962.73 256.91) rotate(18)" x="0" y="4.76" font-size="13.3" text-anchor="end" fill="#000" stroke="#000" stroke-width="0.12">T1/T2</text>
<text transform="translate(962.73 352.09) rotate(-18)" x="0" y="4.76" font-size="13.3" text-anchor="end" fill="#000" stroke="#000" stroke-width="0.12">FA</text>
<text transform="translate(1046.44 429.09) rotate(-54)" x="0" y="4.76" font-size="13.3" text-anchor="end" fill="#000" stroke="#000" stroke-width="0.12">MWF</text>
<text transform="translate(1242.86 153.46) rotate(-78.75)" x="0" y="4.76" font-size="13.3" text-anchor="start" fill="#000" stroke="#000" stroke-width="0.12">SCID II:Avoidant</text>
<text transform="translate(1286.09 162.22) rotate(-67.5)" x="0" y="4.76" font-size="13.3" text-anchor="start" fill="#000" stroke="#000" stroke-width="0.12">SCID II:Dependent</text>
<text transform="translate(1325.93 176.45) rotate(-56.25)" x="0" y="4.76" font-size="13.3" text-anchor="start" fill="#000" stroke="#000" stroke-width="0.12">SCID II:Obessive-compulsive</text>
<text transform="translate(1360.85 195.61) rotate(-45)" x="0" y="4.76" font-size="13.3" text-anchor="start" fill="#000" stroke="#000" stroke-width="0.12">SCID II:Passive-aggressive</text>
<text transform="translate(1389.51 218.94) rotate(-33.75)" x="0" y="4.76" font-size="13.3" text-anchor="start" fill="#000" stroke="#000" stroke-width="0.12">SCID II:Depressive</text>
<text transform="translate(1410.81 245.57) rotate(-22.5)" x="0" y="4.76" font-size="13.3" text-anchor="start" fill="#000" stroke="#000" stroke-width="0.12">SCID II:Paranoid</text>
<text transform="translate(1423.92 274.46) rotate(-11.25)" x="0" y="4.76" font-size="13.3" text-anchor="start" fill="#000" stroke="#000" stroke-width="0.12">SCID II:Schizoid</text>
<text transform="translate(1428.35 304.5) rotate(-0)" x="0" y="4.76" font-size="13.3" text-anchor="start" fill="#000" stroke="#000" stroke-width="0.12">SCID<tspan letter-spacing="-0.7"> II:</tspan>Histrionic</text>
<text transform="translate(1423.92 334.54) rotate(11.25)" x="0" y="4.76" font-size="13.3" text-anchor="start" fill="#000" stroke="#000" stroke-width="0.12">SCID II:Narcissistic</text>
<text transform="translate(1410.81 363.43) rotate(22.5)" x="0" y="4.76" font-size="13.3" text-anchor="start" fill="#000" stroke="#000" stroke-width="0.12">SCID II:Borderline</text>
<text transform="translate(1389.51 390.06) rotate(33.75)" x="0" y="4.76" font-size="13.3" text-anchor="start" fill="#000" stroke="#000" stroke-width="0.12">SCID II:Antisocial</text>
<text transform="translate(1360.85 413.39) rotate(45)" x="0" y="4.76" font-size="13.3" text-anchor="start" fill="#000" stroke="#000" stroke-width="0.12">SSI-Beck</text>
<text transform="translate(1325.93 432.55) rotate(56.25)" x="0" y="4.76" font-size="13.3" text-anchor="start" fill="#0000ff" stroke="#0000ff" stroke-width="0.05">AUDIT-K</text>
<text transform="translate(1286.09 446.78) rotate(67.5)" x="0" y="4.76" font-size="13.3" text-anchor="start" fill="#0000ff" stroke="#0000ff" stroke-width="0.05">BAI</text>
<text transform="translate(1242.86 455.54) rotate(78.75)" x="0" y="4.76" font-size="13.3" text-anchor="start" fill="#000" stroke="#000" stroke-width="0.12">BDI-II</text>
<text x="979.5" y="16.4" font-size="20.2" text-anchor="middle" fill="#000">Neurophysiological</text>
<text x="1398.5" y="18.4" font-size="20.2" text-anchor="middle" fill="#000">Clinical</text>
</g>
<g id="C">
<path d="M857.03 1225.4l-0.14 -2.96M856.45 1219.24l-0.68 -2.89M854.72 1213.18l-1.18 -2.72M851.87 1207.31l-1.61 -2.49M847.94 1201.73l-1.97 -2.22M842.99 1196.52l-2.25 -1.94M837.1 1191.76l-2.47 -1.65M830.37 1187.54l-2.63 -1.36M824.18 1184.49l-2.7 -1.23M818.93 1182.34l-2.81 -0.96M813.4 1180.53l-2.85 -0.82M807.67 1179.01l-2.88 -0.69M801.79 1177.8l-2.93 -0.44M795.76 1176.97l-2.95 -0.31M789.65 1176.45l-2.96 -0.19M783.5 1176.26l-2.97 0.06M777.35 1176.45l-2.96 0.19M771.24 1176.97l-2.95 0.31M765.21 1177.8l-2.91 0.57M759.33 1179.01l-2.88 0.69M753.6 1180.53l-2.85 0.82M748.07 1182.34l-2.76 1.09M742.82 1184.49l-2.7 1.23M736.63 1187.54l-2.56 1.51M729.9 1191.76l-2.36 1.79M724.01 1196.52l-2.11 2.08M719.06 1201.73l-1.8 2.36M715.13 1207.31l-1.41 2.61M712.28 1213.18l-0.94 2.81M710.55 1219.24l-0.42 2.94M709.97 1225.4l0.14 2.96M710.55 1231.56l0.68 2.89M712.28 1237.62l1.18 2.72M715.13 1243.49l1.61 2.49M719.06 1249.07l1.97 2.22M724.01 1254.28l2.25 1.94M729.9 1259.04l2.47 1.65M736.63 1263.26l2.63 1.36M742.82 1266.31l2.7 1.23M748.07 1268.46l2.81 0.96M753.6 1270.27l2.85 0.82M759.33 1271.79l2.88 0.69M765.21 1273l2.93 0.44M771.24 1273.83l2.95 0.31M777.35 1274.35l2.96 0.19M783.5 1274.54l2.97 -0.06M789.65 1274.35l2.96 -0.19M795.76 1273.83l2.95 -0.31M801.79 1273l2.91 -0.57M807.67 1271.79l2.88 -0.69M813.4 1270.27l2.85 -0.82M818.93 1268.46l2.76 -1.09M824.18 1266.31l2.7 -1.23M830.37 1263.26l2.56 -1.51M837.1 1259.04l2.36 -1.79M842.99 1254.28l2.11 -2.08M847.94 1249.07l1.8 -2.36M851.87 1243.49l1.41 -2.61M854.72 1237.62l0.94 -2.81M856.45 1231.56l0.42 -2.94" fill="none" stroke="#000" stroke-width="1.37" />
<polygon points="1004.1,1225.4 1003.67,1216.14 1002.36,1206.92 1000.2,1197.78 997.17,1188.74 993.31,1179.84 988.61,1171.13 983.11,1162.63 976.82,1154.38 969.76,1146.41 961.97,1138.75 953.48,1131.43 944.31,1124.48 934.51,1117.94 924.12,1111.81 913.17,1106.13 901.71,1100.93 889.78,1096.21 877.43,1092.01 864.71,1088.33 851.67,1085.2 838.36,1082.61 824.84,1080.59 811.15,1079.14 797.35,1078.27 783.5,1077.98 769.65,1078.27 755.85,1079.14 742.16,1080.59 728.64,1082.61 715.33,1085.2 702.29,1088.33 689.57,1092.01 677.22,1096.21 665.29,1100.93 653.83,1106.13 642.88,1111.81 632.49,1117.94 622.69,1124.48 613.52,1131.43 605.03,1138.75 597.24,1146.41 590.18,1154.38 583.89,1162.63 578.39,1171.13 573.69,1179.84 569.83,1188.74 566.8,1197.78 564.64,1206.92 563.33,1216.14 562.9,1225.4 563.33,1234.66 564.64,1243.88 566.8,1253.02 569.83,1262.06 573.69,1270.96 578.39,1279.67 583.89,1288.17 590.18,1296.42 597.24,1304.39 605.03,1312.05 613.52,1319.37 622.69,1326.32 632.49,1332.86 642.88,1338.99 653.83,1344.67 665.29,1349.87 677.22,1354.59 689.57,1358.79 702.29,1362.47 715.33,1365.6 728.64,1368.19 742.16,1370.21 755.85,1371.66 769.65,1372.53 783.5,1372.82 797.35,1372.53 811.15,1371.66 824.84,1370.21 838.36,1368.19 851.67,1365.6 864.71,1362.47 877.43,1358.79 889.78,1354.59 901.71,1349.87 913.17,1344.67 924.12,1338.99 934.51,1332.86 944.31,1326.32 953.48,1319.37 961.97,1312.05 969.76,1304.39 976.82,1296.42 983.11,1288.17 988.61,1279.67 993.31,1270.96 997.17,1262.06 1000.2,1253.02 1002.36,1243.88 1003.67,1234.66" fill="none" stroke="#000" stroke-width="1.4" stroke-linejoin="round"/>
<path d="M1152.28 1225.4l-0.14 -2.96M1151.98 1219.21l-0.14 -2.96M1151.69 1213.02l-0.14 -2.96M1151.11 1206.84l-0.42 -2.94M1150.24 1200.68l-0.42 -2.94M1149.37 1194.51l-0.68 -2.89M1147.92 1188.4l-0.68 -2.89M1146.47 1182.28l-0.68 -2.89M1144.73 1176.2l-0.94 -2.81M1142.71 1170.16l-0.94 -2.81M1140.69 1164.11l-1.18 -2.72M1138.1 1158.17l-1.18 -2.72M1135.52 1152.22l-1.18 -2.72M1132.66 1146.33l-1.41 -2.61M1129.52 1140.51l-1.41 -2.61M1126.38 1134.68l-1.61 -2.49M1122.7 1129l-1.61 -2.49M1119.02 1123.31l-1.61 -2.49M1114.84 1117.41l-1.8 -2.36M1110.17 1111.28l-1.8 -2.36M1105.35 1105.2l-1.97 -2.22M1100.11 1099.27l-1.97 -2.22M1094.87 1093.35l-2.11 -2.08M1089.08 1087.66l-2.11 -2.08M1083.29 1081.97l-2.11 -2.08M1077.59 1076.88l-2.25 -1.94M1071.91 1071.98l-2.25 -1.94M1066.11 1067.15l-2.36 -1.79M1059.99 1062.51l-2.36 -1.79M1053.86 1057.86l-2.36 -1.79M1047.86 1053.72l-2.47 -1.65M1041.9 1049.74l-2.47 -1.65M1035.94 1045.76l-2.56 -1.51M1030.15 1042.34l-2.56 -1.51M1024.36 1038.93l-2.56 -1.51M1018.57 1035.52l-2.63 -1.36M1012.46 1032.35l-2.63 -1.36M1006.36 1029.19l-2.63 -1.36M1000.26 1026.03l-2.7 -1.23M994.37 1023.35l-2.7 -1.23M988.47 1020.67l-2.7 -1.23M982.57 1018l-2.7 -1.23M976.5 1015.51l-2.76 -1.09M970.36 1013.08l-2.76 -1.09M964.23 1010.66l-2.76 -1.09M958.21 1008.44l-2.81 -0.96M952.31 1006.43l-2.81 -0.96M946.41 1004.43l-2.81 -0.96M940.52 1002.42l-2.85 -0.82M934.44 1000.66l-2.85 -0.82M928.37 998.9l-2.85 -0.82M922.29 997.15l-2.85 -0.82M916.35 995.57l-2.88 -0.69M910.54 994.17l-2.88 -0.69M904.72 992.77l-2.88 -0.69M898.91 991.37l-2.88 -0.69M893.01 990.16l-2.91 -0.57M887.08 989.01l-2.91 -0.57M881.14 987.86l-2.91 -0.57M875.21 986.71l-2.93 -0.44M869.18 985.8l-2.93 -0.44M863.15 984.9l-2.93 -0.44M857.12 984l-2.93 -0.44M851.08 983.17l-2.95 -0.31M844.97 982.52l-2.95 -0.31M838.87 981.87l-2.95 -0.31M832.77 981.23l-2.95 -0.31M826.84 980.72l-2.96 -0.19M821.07 980.36l-2.96 -0.19M815.3 980l-2.96 -0.19M809.54 979.63l-2.96 -0.19M803.76 979.39l-2.97 -0.06M797.97 979.27l-2.97 -0.06M792.18 979.15l-2.97 -0.06M786.39 979.02l-2.97 -0.06M780.61 979.02l-2.97 0.06M774.82 979.15l-2.97 0.06M769.03 979.27l-2.97 0.06M763.24 979.39l-2.97 0.06M757.46 979.63l-2.96 0.19M751.7 980l-2.96 0.19M745.93 980.36l-2.96 0.19M740.16 980.72l-2.96 0.19M734.23 981.23l-2.95 0.31M728.13 981.87l-2.95 0.31M722.03 982.52l-2.95 0.31M715.92 983.17l-2.95 0.31M709.88 984l-2.93 0.44M703.85 984.9l-2.93 0.44M697.82 985.8l-2.93 0.44M691.79 986.71l-2.91 0.57M685.86 987.86l-2.91 0.57M679.92 989.01l-2.91 0.57M673.99 990.16l-2.91 0.57M668.09 991.37l-2.88 0.69M662.28 992.77l-2.88 0.69M656.46 994.17l-2.88 0.69M650.65 995.57l-2.88 0.69M644.71 997.15l-2.85 0.82M638.63 998.9l-2.85 0.82M632.56 1000.66l-2.85 0.82M626.48 1002.42l-2.81 0.96M620.59 1004.43l-2.81 0.96M614.69 1006.43l-2.81 0.96M608.79 1008.44l-2.81 0.96M602.77 1010.66l-2.76 1.09M596.64 1013.08l-2.76 1.09M590.5 1015.51l-2.76 1.09M584.43 1018l-2.7 1.23M578.53 1020.67l-2.7 1.23M572.63 1023.35l-2.7 1.23M566.74 1026.03l-2.63 1.36M560.64 1029.19l-2.63 1.36M554.54 1032.35l-2.63 1.36M548.43 1035.52l-2.56 1.51M542.64 1038.93l-2.56 1.51M536.85 1042.34l-2.56 1.51M531.06 1045.76l-2.47 1.65M525.1 1049.74l-2.47 1.65M519.14 1053.72l-2.47 1.65M513.14 1057.86l-2.36 1.79M507.01 1062.51l-2.36 1.79M500.89 1067.15l-2.36 1.79M495.09 1071.98l-2.25 1.94M489.41 1076.88l-2.25 1.94M483.71 1081.97l-2.11 2.08M477.92 1087.66l-2.11 2.08M472.13 1093.35l-1.97 2.22M466.89 1099.27l-1.97 2.22M461.65 1105.2l-1.97 2.22M456.83 1111.28l-1.8 2.36M452.16 1117.41l-1.8 2.36M447.98 1123.31l-1.61 2.49M444.3 1129l-1.61 2.49M440.62 1134.68l-1.41 2.61M437.48 1140.51l-1.41 2.61M434.34 1146.33l-1.41 2.61M431.48 1152.22l-1.18 2.72M428.9 1158.17l-1.18 2.72M426.31 1164.11l-0.94 2.81M424.29 1170.16l-0.94 2.81M422.27 1176.2l-0.94 2.81M420.53 1182.28l-0.68 2.89M419.08 1188.4l-0.68 2.89M417.63 1194.51l-0.42 2.94M416.76 1200.68l-0.42 2.94M415.89 1206.84l-0.42 2.94M415.31 1213.02l-0.14 2.96M415.02 1219.21l-0.14 2.96M414.72 1225.4l0.14 2.96M415.02 1231.59l0.14 2.96M415.31 1237.78l0.14 2.96M415.89 1243.96l0.42 2.94M416.76 1250.12l0.42 2.94M417.63 1256.29l0.68 2.89M419.08 1262.4l0.68 2.89M420.53 1268.52l0.68 2.89M422.27 1274.6l0.94 2.81M424.29 1280.64l0.94 2.81M426.31 1286.69l1.18 2.72M428.9 1292.63l1.18 2.72M431.48 1298.58l1.18 2.72M434.34 1304.47l1.41 2.61M437.48 1310.29l1.41 2.61M440.62 1316.12l1.61 2.49M444.3 1321.8l1.61 2.49M447.98 1327.49l1.61 2.49M452.16 1333.39l1.8 2.36M456.83 1339.52l1.8 2.36M461.65 1345.6l1.97 2.22M466.89 1351.53l1.97 2.22M472.13 1357.45l2.11 2.08M477.92 1363.14l2.11 2.08M483.71 1368.83l2.11 2.08M489.41 1373.92l2.25 1.94M495.09 1378.82l2.25 1.94M500.89 1383.65l2.36 1.79M507.01 1388.29l2.36 1.79M513.14 1392.94l2.36 1.79M519.14 1397.08l2.47 1.65M525.1 1401.06l2.47 1.65M531.06 1405.04l2.56 1.51M536.85 1408.46l2.56 1.51M542.64 1411.87l2.56 1.51M548.43 1415.28l2.63 1.36M554.54 1418.45l2.63 1.36M560.64 1421.61l2.63 1.36M566.74 1424.77l2.7 1.23M572.63 1427.45l2.7 1.23M578.53 1430.13l2.7 1.23M584.43 1432.8l2.7 1.23M590.5 1435.29l2.76 1.09M596.64 1437.72l2.76 1.09M602.77 1440.14l2.76 1.09M608.79 1442.36l2.81 0.96M614.69 1444.37l2.81 0.96M620.59 1446.37l2.81 0.96M626.48 1448.38l2.85 0.82M632.56 1450.14l2.85 0.82M638.63 1451.9l2.85 0.82M644.71 1453.65l2.85 0.82M650.65 1455.23l2.88 0.69M656.46 1456.63l2.88 0.69M662.28 1458.03l2.88 0.69M668.09 1459.43l2.88 0.69M673.99 1460.64l2.91 0.57M679.92 1461.79l2.91 0.57M685.86 1462.94l2.91 0.57M691.79 1464.09l2.93 0.44M697.82 1465l2.93 0.44M703.85 1465.9l2.93 0.44M709.88 1466.8l2.93 0.44M715.92 1467.63l2.95 0.31M722.03 1468.28l2.95 0.31M728.13 1468.93l2.95 0.31M734.23 1469.57l2.95 0.31M740.16 1470.08l2.96 0.19M745.93 1470.44l2.96 0.19M751.7 1470.8l2.96 0.19M757.46 1471.17l2.96 0.19M763.24 1471.41l2.97 0.06M769.03 1471.53l2.97 0.06M774.82 1471.65l2.97 0.06M780.61 1471.78l2.97 0.06M786.39 1471.78l2.97 -0.06M792.18 1471.65l2.97 -0.06M797.97 1471.53l2.97 -0.06M803.76 1471.41l2.97 -0.06M809.54 1471.17l2.96 -0.19M815.3 1470.8l2.96 -0.19M821.07 1470.44l2.96 -0.19M826.84 1470.08l2.96 -0.19M832.77 1469.57l2.95 -0.31M838.87 1468.93l2.95 -0.31M844.97 1468.28l2.95 -0.31M851.08 1467.63l2.95 -0.31M857.12 1466.8l2.93 -0.44M863.15 1465.9l2.93 -0.44M869.18 1465l2.93 -0.44M875.21 1464.09l2.91 -0.57M881.14 1462.94l2.91 -0.57M887.08 1461.79l2.91 -0.57M893.01 1460.64l2.91 -0.57M898.91 1459.43l2.88 -0.69M904.72 1458.03l2.88 -0.69M910.54 1456.63l2.88 -0.69M916.35 1455.23l2.88 -0.69M922.29 1453.65l2.85 -0.82M928.37 1451.9l2.85 -0.82M934.44 1450.14l2.85 -0.82M940.52 1448.38l2.81 -0.96M946.41 1446.37l2.81 -0.96M952.31 1444.37l2.81 -0.96M958.21 1442.36l2.81 -0.96M964.23 1440.14l2.76 -1.09M970.36 1437.72l2.76 -1.09M976.5 1435.29l2.76 -1.09M982.57 1432.8l2.7 -1.23M988.47 1430.13l2.7 -1.23M994.37 1427.45l2.7 -1.23M1000.26 1424.77l2.63 -1.36M1006.36 1421.61l2.63 -1.36M1012.46 1418.45l2.63 -1.36M1018.57 1415.28l2.56 -1.51M1024.36 1411.87l2.56 -1.51M1030.15 1408.46l2.56 -1.51M1035.94 1405.04l2.47 -1.65M1041.9 1401.06l2.47 -1.65M1047.86 1397.08l2.47 -1.65M1053.86 1392.94l2.36 -1.79M1059.99 1388.29l2.36 -1.79M1066.11 1383.65l2.36 -1.79M1071.91 1378.82l2.25 -1.94M1077.59 1373.92l2.25 -1.94M1083.29 1368.83l2.11 -2.08M1089.08 1363.14l2.11 -2.08M1094.87 1357.45l1.97 -2.22M1100.11 1351.53l1.97 -2.22M1105.35 1345.6l1.97 -2.22M1110.17 1339.52l1.8 -2.36M1114.84 1333.39l1.8 -2.36M1119.02 1327.49l1.61 -2.49M1122.7 1321.8l1.61 -2.49M1126.38 1316.12l1.41 -2.61M1129.52 1310.29l1.41 -2.61M1132.66 1304.47l1.41 -2.61M1135.52 1298.58l1.18 -2.72M1138.1 1292.63l1.18 -2.72M1140.69 1286.69l0.94 -2.81M1142.71 1280.64l0.94 -2.81M1144.73 1274.6l0.94 -2.81M1146.47 1268.52l0.68 -2.89M1147.92 1262.4l0.68 -2.89M1149.37 1256.29l0.42 -2.94M1150.24 1250.12l0.42 -2.94M1151.11 1243.96l0.42 -2.94M1151.69 1237.78l0.14 -2.96M1151.98 1231.59l0.14 -2.96" fill="none" stroke="#000" stroke-width="1.37" />
<line x1="783.5" y1="781.67" x2="783.5" y2="1669.13" stroke="#000" stroke-width="1.75"/>
<polygon points="737.42,1081.22 720.35,1023.86 726.43,1023.06 743.5,1080.41" fill="#0000ff" stroke="#000" stroke-width="1.4" stroke-linejoin="miter"/>
<polygon points="696.22,1089.99 684.68,1071.38 690.4,1069.8 701.94,1088.41" fill="#fff" stroke="#000" stroke-width="1.4" stroke-linejoin="miter"/>
<polygon points="658.36,1103.98 636.38,1081.99 641.54,1079.69 663.52,1101.67" fill="#fff" stroke="#000" stroke-width="1.4" stroke-linejoin="miter"/>
<polygon points="625.32,1122.62 589.96,1098.99 594.34,1096.07 629.7,1119.69" fill="#fff" stroke="#000" stroke-width="1.4" stroke-linejoin="miter"/>
<polygon points="598.35,1145.22 538.19,1118.36 541.63,1114.91 601.8,1141.78" fill="#fff" stroke="#000" stroke-width="1.4" stroke-linejoin="miter"/>
<polygon points="578.5,1170.9 568.86,1168.23 571.23,1164.4 580.87,1167.07" fill="#fff" stroke="#000" stroke-width="1.4" stroke-linejoin="miter"/>
<polygon points="566.53,1198.67 518.5,1192.29 519.71,1188.22 567.74,1194.61" fill="#fff" stroke="#000" stroke-width="1.4" stroke-linejoin="miter"/>
<polygon points="562.9,1227.47 530.1,1227.47 530.1,1223.33 562.9,1223.33" fill="#fff" stroke="#000" stroke-width="1.4" stroke-linejoin="miter"/>
<polygon points="567.74,1256.19 575.38,1255.18 574.18,1251.11 566.53,1252.13" fill="#fff" stroke="#000" stroke-width="1.4" stroke-linejoin="miter"/>
<polygon points="580.87,1283.73 515.66,1301.78 513.28,1297.95 578.5,1279.9" fill="#fff" stroke="#000" stroke-width="1.4" stroke-linejoin="miter"/>
<polygon points="601.8,1309.02 584.43,1316.78 580.99,1313.33 598.35,1305.58" fill="#fff" stroke="#000" stroke-width="1.4" stroke-linejoin="miter"/>
<polygon points="629.7,1331.11 589.66,1357.86 585.28,1354.93 625.32,1328.18" fill="#fff" stroke="#000" stroke-width="1.4" stroke-linejoin="miter"/>
<polygon points="663.52,1349.13 650.69,1361.96 645.53,1359.65 658.36,1346.82" fill="#fff" stroke="#000" stroke-width="1.4" stroke-linejoin="miter"/>
<polygon points="701.94,1362.39 675.15,1405.61 669.43,1404.03 696.22,1360.81" fill="#0000ff" stroke="#000" stroke-width="1.4" stroke-linejoin="miter"/>
<polygon points="743.5,1370.39 727.32,1424.76 721.24,1423.95 737.42,1369.58" fill="#0000ff" stroke="#000" stroke-width="1.4" stroke-linejoin="miter"/>
<polygon points="805.12,1078.68 814.29,1024.28 820.45,1024.74 811.28,1079.14" fill="#0000ff" stroke="#000" stroke-width="1.4" stroke-linejoin="miter"/>
<polygon points="829.57,1081.22 838.5,1055.06 844.54,1055.98 835.61,1082.14" fill="#fff" stroke="#000" stroke-width="1.4" stroke-linejoin="miter"/>
<polygon points="853.44,1085.57 869.95,1054.03 875.8,1055.4 859.29,1086.94" fill="#fff" stroke="#000" stroke-width="1.4" stroke-linejoin="miter"/>
<polygon points="876.42,1091.68 904.25,1053.07 909.83,1054.87 882.01,1093.48" fill="#0000ff" stroke="#000" stroke-width="1.4" stroke-linejoin="miter"/>
<polygon points="898.24,1099.47 913.27,1083.5 918.52,1085.7 903.49,1101.68" fill="#fff" stroke="#000" stroke-width="1.4" stroke-linejoin="miter"/>
<polygon points="918.62,1108.85 964.1,1070.74 968.95,1073.32 923.47,1111.43" fill="#0000ff" stroke="#000" stroke-width="1.4" stroke-linejoin="miter"/>
<polygon points="937.3,1119.69 985.45,1087.52 989.83,1090.45 941.68,1122.62" fill="#0000ff" stroke="#000" stroke-width="1.4" stroke-linejoin="miter"/>
<polygon points="954.04,1131.87 1003.14,1105.7 1007,1108.94 957.91,1135.1" fill="#0000ff" stroke="#000" stroke-width="1.4" stroke-linejoin="miter"/>
<polygon points="968.64,1145.21 1007.24,1129.01 1010.54,1132.51 971.94,1148.72" fill="#fff" stroke="#000" stroke-width="1.4" stroke-linejoin="miter"/>
<polygon points="980.91,1159.57 999.99,1153.43 1002.68,1157.16 983.6,1163.3" fill="#fff" stroke="#000" stroke-width="1.4" stroke-linejoin="miter"/>
<polygon points="990.7,1174.76 1032.62,1164.95 1034.67,1168.86 992.75,1178.66" fill="#fff" stroke="#000" stroke-width="1.4" stroke-linejoin="miter"/>
<polygon points="997.88,1190.58 1038.03,1184.45 1039.41,1188.49 999.26,1194.61" fill="#fff" stroke="#000" stroke-width="1.4" stroke-linejoin="miter"/>
<polygon points="1002.37,1206.84 1047.24,1203.46 1047.93,1207.57 1003.06,1210.95" fill="#fff" stroke="#000" stroke-width="1.4" stroke-linejoin="miter"/>
<polygon points="1004.1,1223.33 1041.02,1223.33 1041.02,1227.47 1004.1,1227.47" fill="#fff" stroke="#000" stroke-width="1.4" stroke-linejoin="miter"/>
<polygon points="1003.06,1239.85 1039.75,1242.61 1039.05,1246.73 1002.37,1243.96" fill="#fff" stroke="#000" stroke-width="1.4" stroke-linejoin="miter"/>
<polygon points="999.26,1256.19 1061.78,1265.72 1060.4,1269.76 997.88,1260.22" fill="#0000ff" stroke="#000" stroke-width="1.4" stroke-linejoin="miter"/>
<polygon points="992.75,1272.14 1034.67,1281.94 1032.62,1285.85 990.7,1276.04" fill="#fff" stroke="#000" stroke-width="1.4" stroke-linejoin="miter"/>
<polygon points="983.6,1287.5 1042.3,1306.39 1039.61,1310.12 980.91,1291.23" fill="#0000ff" stroke="#000" stroke-width="1.4" stroke-linejoin="miter"/>
<polygon points="971.94,1302.08 1023.12,1323.57 1019.82,1327.08 968.64,1305.59" fill="#fff" stroke="#000" stroke-width="1.4" stroke-linejoin="miter"/>
<polygon points="957.91,1315.7 1011.26,1344.13 1007.39,1347.37 954.04,1318.93" fill="#0000ff" stroke="#000" stroke-width="1.4" stroke-linejoin="miter"/>
<polygon points="941.68,1328.18 985.15,1357.23 980.77,1360.15 937.3,1331.11" fill="#0000ff" stroke="#000" stroke-width="1.4" stroke-linejoin="miter"/>
<polygon points="923.47,1339.37 960.79,1370.64 955.94,1373.22 918.62,1341.95" fill="#0000ff" stroke="#000" stroke-width="1.4" stroke-linejoin="miter"/>
<polygon points="903.49,1349.12 912.18,1358.36 906.93,1360.56 898.24,1351.33" fill="#fff" stroke="#000" stroke-width="1.4" stroke-linejoin="miter"/>
<polygon points="882.01,1357.32 889.98,1368.39 884.4,1370.19 876.42,1359.12" fill="#fff" stroke="#000" stroke-width="1.4" stroke-linejoin="miter"/>
<polygon points="859.29,1363.86 867.59,1379.73 861.74,1381.09 853.44,1365.23" fill="#fff" stroke="#000" stroke-width="1.4" stroke-linejoin="miter"/>
<polygon points="835.61,1368.66 847.26,1402.77 841.22,1403.7 829.57,1369.58" fill="#0000ff" stroke="#000" stroke-width="1.4" stroke-linejoin="miter"/>
<polygon points="811.28,1371.66 822.21,1436.51 816.05,1436.97 805.12,1372.12" fill="#0000ff" stroke="#000" stroke-width="1.4" stroke-linejoin="miter"/>
<text transform="translate(690.56 960.32) rotate(78.75)" x="0" y="8.36" font-size="23.34" text-anchor="end" fill="#0000ff" stroke="#0000ff" stroke-width="0.16" letter-spacing="0.14">SCID II:Avoidant</text>
<text transform="translate(614.69 975.7) rotate(67.5)" x="0" y="8.36" font-size="23.34" text-anchor="end" fill="#000" stroke="#000" stroke-width="0.4" letter-spacing="0.14">SCID II:Dependent</text>
<text transform="translate(544.77 1000.68) rotate(56.25)" x="0" y="8.36" font-size="23.34" text-anchor="end" fill="#000" stroke="#000" stroke-width="0.4" letter-spacing="0.14">SCID II:Obessive-compulsive</text>
<text transform="translate(483.48 1034.29) rotate(45)" x="0" y="8.36" font-size="23.34" text-anchor="end" fill="#000" stroke="#000" stroke-width="0.4" letter-spacing="0.14">SCID II:Passive-aggressive</text>
<text transform="translate(433.18 1075.25) rotate(33.75)" x="0" y="8.36" font-size="23.34" text-anchor="end" fill="#000" stroke="#000" stroke-width="0.4" letter-spacing="0.14">SCID II:Depressive</text>
<text transform="translate(395.81 1121.97) rotate(22.5)" x="0" y="8.36" font-size="23.34" text-anchor="end" fill="#000" stroke="#000" stroke-width="0.4" letter-spacing="0.14">SCID II:Paranoid</text>
<text transform="translate(372.79 1172.67) rotate(11.25)" x="0" y="8.36" font-size="23.34" text-anchor="end" fill="#000" stroke="#000" stroke-width="0.4" letter-spacing="0.14">SCID II:Schizoid</text>
<text transform="translate(363.09 1225.4) rotate(-0)" x="0" y="8.36" font-size="23.34" text-anchor="end" fill="#000" stroke="#000" stroke-width="0.4">SCID<tspan letter-spacing="-1.23"> II:</tspan>Histrionic</text>
<text transform="translate(372.79 1278.13) rotate(-11.25)" x="0" y="8.36" font-size="23.34" text-anchor="end" fill="#000" stroke="#000" stroke-width="0.4" letter-spacing="0.14">SCID II:Narcissistic</text>
<text transform="translate(395.81 1328.83) rotate(-22.5)" x="0" y="8.36" font-size="23.34" text-anchor="end" fill="#000" stroke="#000" stroke-width="0.4" letter-spacing="0.14">SCID II:Borderline</text>
<text transform="translate(433.18 1375.55) rotate(-33.75)" x="0" y="8.36" font-size="23.34" text-anchor="end" fill="#000" stroke="#000" stroke-width="0.4" letter-spacing="0.14">SCID II:Antisocial</text>
<text transform="translate(483.48 1416.51) rotate(-45)" x="0" y="8.36" font-size="23.34" text-anchor="end" fill="#000" stroke="#000" stroke-width="0.4" letter-spacing="0.14">SSI-Beck</text>
<text transform="translate(544.77 1450.12) rotate(-56.25)" x="0" y="8.36" font-size="23.34" text-anchor="end" fill="#000" stroke="#000" stroke-width="0.4" letter-spacing="0.14">AUDIT-K</text>
<text transform="translate(614.69 1475.1) rotate(-67.5)" x="0" y="8.36" font-size="23.34" text-anchor="end" fill="#0000ff" stroke="#0000ff" stroke-width="0.16" letter-spacing="0.14">BAI</text>
<text transform="translate(690.56 1490.48) rotate(-78.75)" x="0" y="8.36" font-size="23.34" text-anchor="end" fill="#0000ff" stroke="#0000ff" stroke-width="0.16" letter-spacing="0.14">BDI-II</text>
<text transform="translate(842.82 956.83) rotate(-83.57)" x="0" y="8.36" font-size="23.34" text-anchor="start" fill="#0000ff" stroke="#0000ff" stroke-width="0.16" letter-spacing="0.14">KRQ:Emotion regulation</text>
<text transform="translate(887.54 961.91) rotate(-77.14)" x="0" y="8.36" font-size="23.34" text-anchor="start" fill="#000" stroke="#000" stroke-width="0.4" letter-spacing="0.14">KRQ:Impulse control</text>
<text transform="translate(931.12 970.3) rotate(-70.71)" x="0" y="8.36" font-size="23.34" text-anchor="start" fill="#000" stroke="#000" stroke-width="0.4" letter-spacing="0.14">KRQ:Causal analysis</text>
<text transform="translate(973.02 981.9) rotate(-64.29)" x="0" y="8.36" font-size="23.34" text-anchor="start" fill="#0000ff" stroke="#0000ff" stroke-width="0.16" letter-spacing="0.14">KRQ:Communication</text>
<text transform="translate(1012.71 996.56) rotate(-57.86)" x="0" y="8.36" font-size="23.34" text-anchor="start" fill="#000" stroke="#000" stroke-width="0.4" letter-spacing="0.14">KRQ:Empathy</text>
<text transform="translate(1049.7 1014.09) rotate(-51.43)" x="0" y="8.36" font-size="23.34" text-anchor="start" fill="#0000ff" stroke="#0000ff" stroke-width="0.16" letter-spacing="0.14">KRQ:Self-expansion</text>
<text transform="translate(1083.52 1034.29) rotate(-45)" x="0" y="8.36" font-size="23.34" text-anchor="start" fill="#0000ff" stroke="#0000ff" stroke-width="0.16" letter-spacing="0.14">KRQ:Self-positivity</text>
<text transform="translate(1113.74 1056.89) rotate(-38.57)" x="0" y="8.36" font-size="23.34" text-anchor="start" fill="#0000ff" stroke="#0000ff" stroke-width="0.16" letter-spacing="0.14">KRQ:Life satisfaction</text>
<text transform="translate(1139.99 1081.61) rotate(-32.14)" x="0" y="8.36" font-size="23.34" text-anchor="start" fill="#000" stroke="#000" stroke-width="0.4" letter-spacing="0.14">KRQ:Appreciation</text>
<text transform="translate(1161.93 1108.13) rotate(-25.71)" x="0" y="8.36" font-size="23.34" text-anchor="start" fill="#000" stroke="#000" stroke-width="0.4" letter-spacing="0.14">MSSS:SES</text>
<text transform="translate(1179.28 1136.14) rotate(-19.29)" x="0" y="8.36" font-size="23.34" text-anchor="start" fill="#000" stroke="#000" stroke-width="0.4" letter-spacing="0.14">MSSS:Community</text>
<text transform="translate(1191.84 1165.26) rotate(-12.86)" x="0" y="8.36" font-size="23.34" text-anchor="start" fill="#000" stroke="#000" stroke-width="0.4" letter-spacing="0.14">LES:Frequency of PE</text>
<text transform="translate(1199.44 1195.14) rotate(-6.43)" x="0" y="8.36" font-size="23.34" text-anchor="start" fill="#000" stroke="#000" stroke-width="0.4" letter-spacing="0.14">LES:Severity of PE</text>
<text transform="translate(1201.98 1225.4) rotate(-0)" x="0" y="8.36" font-size="23.34" text-anchor="start" fill="#000" stroke="#000" stroke-width="0.4"><tspan letter-spacing="0.53">LES:</tspan><tspan letter-spacing="-0.39">Frequency of NE</tspan></text>
<text transform="translate(1199.44 1255.66) rotate(6.43)" x="0" y="8.36" font-size="23.34" text-anchor="start" fill="#000" stroke="#000" stroke-width="0.4" letter-spacing="0.14">LES:Severity of NE</text>
<text transform="translate(1191.84 1285.54) rotate(12.86)" x="0" y="8.36" font-size="23.34" text-anchor="start" fill="#0000ff" stroke="#0000ff" stroke-width="0.16" letter-spacing="0.14">SSS:Emotional</text>
<text transform="translate(1179.28 1314.66) rotate(19.29)" x="0" y="8.36" font-size="23.34" text-anchor="start" fill="#000" stroke="#000" stroke-width="0.4" letter-spacing="0.14">SSS:Evaluative</text>
<text transform="translate(1161.93 1342.67) rotate(25.71)" x="0" y="8.36" font-size="23.34" text-anchor="start" fill="#0000ff" stroke="#0000ff" stroke-width="0.16" letter-spacing="0.14">SSS:Informative</text>
<text transform="translate(1139.99 1369.19) rotate(32.14)" x="0" y="8.36" font-size="23.34" text-anchor="start" fill="#000" stroke="#000" stroke-width="0.4" letter-spacing="0.14">SSS:Material</text>
<text transform="translate(1113.74 1393.91) rotate(38.57)" x="0" y="8.36" font-size="23.34" text-anchor="start" fill="#0000ff" stroke="#0000ff" stroke-width="0.16" letter-spacing="0.14">WHOQOL:Physical</text>
<text transform="translate(1083.52 1416.51) rotate(45)" x="0" y="8.36" font-size="23.34" text-anchor="start" fill="#0000ff" stroke="#0000ff" stroke-width="0.16" letter-spacing="0.14">WHOQOL:Social relationship</text>
<text transform="translate(1049.7 1436.71) rotate(51.43)" x="0" y="8.36" font-size="23.34" text-anchor="start" fill="#0000ff" stroke="#0000ff" stroke-width="0.16" letter-spacing="0.14">WHOQOL:Environment</text>
<text transform="translate(1012.71 1454.24) rotate(57.86)" x="0" y="8.36" font-size="23.34" text-anchor="start" fill="#000" stroke="#000" stroke-width="0.4" letter-spacing="0.14">IRI:Perspective taking</text>
<text transform="translate(973.02 1468.9) rotate(64.29)" x="0" y="8.36" font-size="23.34" text-anchor="start" fill="#000" stroke="#000" stroke-width="0.4" letter-spacing="0.14">IRI:Fantasy</text>
<text transform="translate(931.12 1480.5) rotate(70.71)" x="0" y="8.36" font-size="23.34" text-anchor="start" fill="#000" stroke="#000" stroke-width="0.4" letter-spacing="0.14">IRI:Empathic concern</text>
<text transform="translate(887.54 1488.89) rotate(77.14)" x="0" y="8.36" font-size="23.34" text-anchor="start" fill="#0000ff" stroke="#0000ff" stroke-width="0.16" letter-spacing="0.14">IRI:Personal distress</text>
<text transform="translate(842.82 1493.97) rotate(83.57)" x="0" y="8.36" font-size="23.34" text-anchor="start" fill="#0000ff" stroke="#0000ff" stroke-width="0.16" letter-spacing="0.14">ULS</text>
<text x="412.9" y="721.6" font-size="35.45" text-anchor="middle" fill="#000">Clinical</text>
<text x="1150.5" y="719" font-size="35.45" text-anchor="middle" fill="#000">Psychosocial</text>
</g>
</svg>
</body></html>
